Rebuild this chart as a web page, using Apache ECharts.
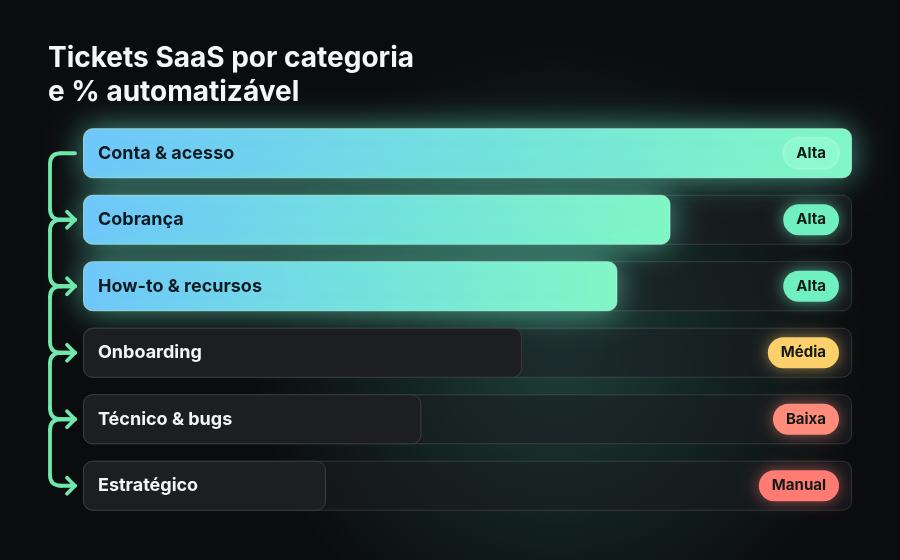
<!DOCTYPE html>
<html>
<head>
<meta charset="utf-8">
<script src="https://cdn.jsdelivr.net/npm/echarts@6/dist/echarts.min.js"></script>
<style>
  html, body { margin: 0; padding: 0; background: #0b0c0e; }
  #chart { width: 900px; height: 560px; }
</style>
</head>
<body>
<div id="chart"></div>
<script>
// --- Data ---
const categories = ['Conta & acesso', 'Cobrança', 'How-to & recursos', 'Onboarding', 'Técnico & bugs', 'Estratégico'];
const shareValues = [100, 76.4, 69.5, 57.1, 44, 31.6];
const autoLevels = ['Alta', 'Alta', 'Alta', 'Média', 'Baixa', 'Manual'];

const levelStyle = {
  'Alta':   { bg: '#70efc0', glow: 'rgba(112,239,192,0.6)' },
  'Média':  { bg: '#fdd06c', glow: 'rgba(253,208,108,0.55)' },
  'Baixa':  { bg: '#ff8b7a', glow: 'rgba(255,139,122,0.55)' },
  'Manual': { bg: '#ff7b74', glow: 'rgba(255,123,116,0.55)' }
};
const FONT = 'Inter, "Noto Sans", sans-serif';
const HIGHLIGHT = 3; // first rows drawn with the bright gradient
const LINE = '#6fe8ad';

const chart = echarts.init(document.getElementById('chart'), null, { renderer: 'canvas' });

function barGradient() {
  return new echarts.graphic.LinearGradient(0, 0, 1, 0, [
    { offset: 0, color: '#6fc7fb' },
    { offset: 0.55, color: '#74e4dc' },
    { offset: 1, color: '#82f7c6' }
  ]);
}

const valueData = shareValues.map((v, i) => {
  const bright = i < HIGHLIGHT;
  return {
    value: v,
    itemStyle: bright ? {
      color: barGradient(),
      borderColor: 'rgba(200,255,240,0.55)',
      borderWidth: 1,
      shadowBlur: 34,
      shadowColor: 'rgba(110,235,205,0.62)'
    } : {
      color: '#1d1e22',
      borderColor: '#3a3c41',
      borderWidth: 1
    },
    label: { color: bright ? '#0c1a22' : '#f3f4f6' }
  };
});

const badgeData = autoLevels.map((lvl, i) => {
  const s = levelStyle[lvl];
  const first = shareValues[i] >= 100;
  return {
    value: 100,
    label: {
      formatter: lvl,
      backgroundColor: first ? 'rgba(160,255,220,0.45)' : s.bg,
      borderColor: first ? 'rgba(255,255,255,0.22)' : 'transparent',
      borderWidth: first ? 1 : 0,
      shadowBlur: first ? 0 : 16,
      shadowColor: s.glow
    }
  };
});

chart.setOption({
  backgroundColor: 'transparent',
  title: {
    text: 'Tickets SaaS por categoria\ne % automatizável',
    left: 43,
    top: 37,
    textStyle: {
      color: '#f5f6f8',
      fontSize: 28,
      fontWeight: 700,
      lineHeight: 34,
      fontFamily: FONT
    }
  },
  grid: { left: 83, right: 48, top: 120, bottom: 41 },
  xAxis: { type: 'value', min: 0, max: 100, show: false },
  yAxis: { type: 'category', data: categories, inverse: true, show: false },
  series: [
    {
      name: 'track',
      type: 'bar',
      data: categories.map(() => 100),
      barWidth: 50,
      barGap: '-100%',
      silent: true,
      z: 1,
      itemStyle: {
        color: 'rgba(28,30,34,0.55)',
        borderColor: 'rgba(255,255,255,0.13)',
        borderWidth: 1,
        borderRadius: 9
      }
    },
    {
      name: 'share',
      type: 'bar',
      data: valueData,
      barWidth: 50,
      barGap: '-100%',
      z: 2,
      itemStyle: { borderRadius: 9 },
      label: {
        show: true,
        position: 'insideLeft',
        distance: 15,
        formatter: '{b}',
        fontSize: 18,
        fontWeight: 700,
        fontFamily: FONT
      }
    },
    {
      name: 'badge',
      type: 'bar',
      data: badgeData,
      barWidth: 50,
      barGap: '-100%',
      z: 3,
      silent: true,
      itemStyle: { color: 'transparent' },
      label: {
        show: true,
        position: 'insideRight',
        distance: 13,
        color: '#111a16',
        fontSize: 15,
        fontWeight: 700,
        fontFamily: FONT,
        padding: [8, 13, 8, 13],
        borderRadius: 17
      }
    }
  ]
});

// --- Background glow + connector, placed from the axis scales ---
function drawDecor() {
  const x0 = chart.convertToPixel({ xAxisIndex: 0 }, 0);
  const ys = categories.map((c, i) => chart.convertToPixel({ yAxisIndex: 0 }, i));
  const vx = x0 - 33;      // vertical spine
  const tip = x0 - 8;      // arrow tip
  const r = 11;
  const stroke = { stroke: LINE, lineWidth: 3.8, lineCap: 'round', lineJoin: 'round', fill: null };
  const parts = [];
  function add(type, shape) {
    parts.push({ type: type, z: 10, silent: true, shape: shape, style: stroke });
  }
  for (let i = 0; i < ys.length - 1; i++) {
    const a = ys[i], b = ys[i + 1];
    add('line', { x1: tip, y1: a, x2: vx + r, y2: a });
    add('bezierCurve', { x1: vx + r, y1: a, cpx1: vx, cpy1: a, x2: vx, y2: a + r });
    add('line', { x1: vx, y1: a + r, x2: vx, y2: b - r });
    add('bezierCurve', { x1: vx, y1: b - r, cpx1: vx, cpy1: b, x2: vx + r, y2: b });
    add('line', { x1: vx + r, y1: b, x2: tip, y2: b });
    add('polyline', { points: [[tip - 8, b - 8], [tip, b], [tip - 8, b + 8]] });
  }
  chart.setOption({
    graphic: [
      {
        type: 'rect',
        z: -10,
        silent: true,
        shape: { x: 0, y: 0, width: 900, height: 560 },
        style: {
          fill: {
            type: 'radial', x: 0.62, y: 0.62, r: 0.55,
            colorStops: [
              { offset: 0, color: '#1f4038' },
              { offset: 0.45, color: '#142722' },
              { offset: 1, color: '#0b0c0e' }
            ]
          }
        }
      }
    ].concat(parts)
  });
}
drawDecor();
</script>
</body>
</html>
